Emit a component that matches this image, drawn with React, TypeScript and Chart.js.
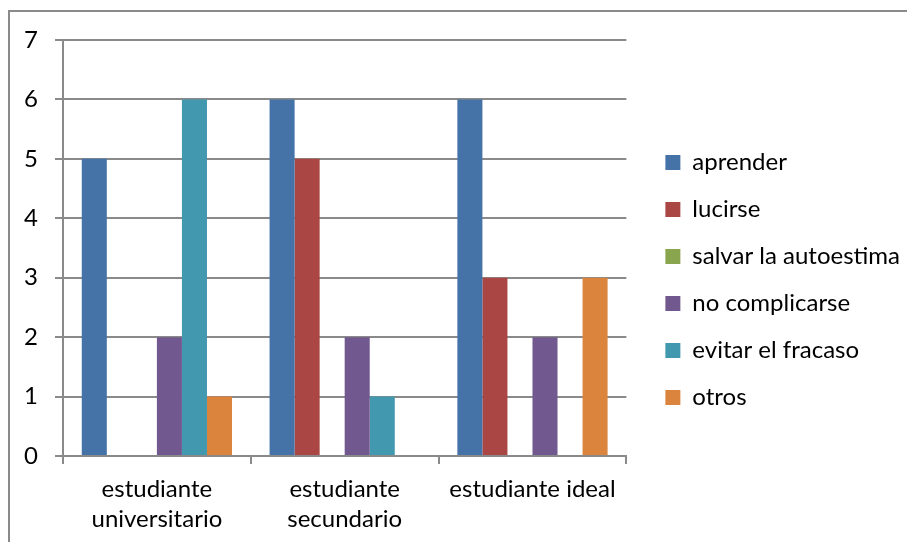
import React, { useEffect, useRef } from "react";
import { Chart, registerables } from "chart.js";

Chart.register(...registerables);

const categories: (string | string[])[] = [
  ["estudiante", "universitario"],
  ["estudiante", "secundario"],
  "estudiante ideal",
];
const seriesNames = [
  "aprender",
  "lucirse",
  "salvar la autoestima",
  "no complicarse",
  "evitar el fracaso",
  "otros",
];
const aprender = [5, 6, 6];
const lucirse = [0, 5, 3];
const salvarAutoestima = [0, 0, 0];
const noComplicarse = [2, 2, 2];
const evitarFracaso = [6, 1, 0];
const otros = [1, 0, 3];
const seriesValues = [aprender, lucirse, salvarAutoestima, noComplicarse, evitarFracaso, otros];
const seriesColors = ["#4572A7", "#AA4643", "#89A54E", "#71588F", "#4198AF", "#DB843D"];

const FONT = "Lato, 'Open Sans', sans-serif";
const GRID = "#8a8a8a";

const frameBorder = {
  id: "frameBorder",
  beforeDraw(chart: any) {
    const ctx = chart.ctx;
    ctx.save();
    ctx.strokeStyle = GRID;
    ctx.lineWidth = 2;
    ctx.beginPath();
    ctx.moveTo(1, chart.height);
    ctx.lineTo(1, 3);
    ctx.lineTo(chart.width, 3);
    ctx.stroke();
    ctx.restore();
  },
};

export default function App() {
  const ref = useRef<HTMLCanvasElement | null>(null);
  useEffect(() => {
    if (!ref.current) return;
    const chart = new Chart(ref.current, {
      type: "bar",
      data: {
        labels: categories,
        datasets: seriesNames.map((name, i) => ({
          label: name,
          data: seriesValues[i],
          backgroundColor: seriesColors[i],
          borderWidth: 0,
          categoryPercentage: 0.8,
          barPercentage: 1,
          xAxisID: "x",
          yAxisID: "y",
        })),
      },
      options: {
        animation: false,
        responsive: true,
        maintainAspectRatio: false,
        layout: { padding: { left: 0, top: 21, right: 5, bottom: 11 } },
        plugins: {
          title: { display: false },
          tooltip: { enabled: false },
          legend: {
            position: "right",
            align: "center",
            maxWidth: 400,
            labels: {
              boxWidth: 15,
              boxHeight: 15,
              padding: 23,
              color: "#000",
              font: { family: FONT, size: 24 },
            },
          },
        },
        scales: {
          x: {
            offset: true,
            grid: {
              offset: true,
              drawOnChartArea: false,
              drawTicks: true,
              tickLength: 8,
              tickColor: GRID,
              lineWidth: 2,
            },
            border: { display: true, color: GRID, width: 2 },
            ticks: {
              color: "#000",
              padding: 10,
              font: { family: FONT, size: 24, lineHeight: 1.25 },
              maxRotation: 0,
              autoSkip: false,
            },
            afterFit: (s: any) => {
              s.height = 75;
            },
          },
          topSpacer: {
            type: "category",
            position: "top",
            display: true,
            grid: { display: false, drawTicks: false },
            border: { display: false },
            ticks: { display: false },
            afterFit: (s: any) => {
              s.height = 11;
            },
          },
          y: {
            min: 0,
            max: 7,
            grid: {
              color: GRID,
              lineWidth: 2,
              tickLength: 8,
              tickColor: GRID,
            },
            border: { display: true, color: GRID, width: 2 },
            ticks: {
              stepSize: 1,
              color: "#000",
              padding: 17,
              font: { family: FONT, size: 24 },
            },
            afterFit: (s: any) => {
              s.width = 55;
            },
          },
          rightSpacer: {
            type: "linear",
            position: "right",
            display: true,
            grid: { display: false, drawTicks: false },
            border: { display: false },
            ticks: { display: false },
            afterFit: (s: any) => {
              s.width = 16;
            },
          },
        },
      },
      plugins: [frameBorder],
    });
    return () => chart.destroy();
  }, []);
  return (
    <div style={{ width: 907, height: 534, position: "relative" }}>
      <canvas ref={ref} />
    </div>
  );
}
